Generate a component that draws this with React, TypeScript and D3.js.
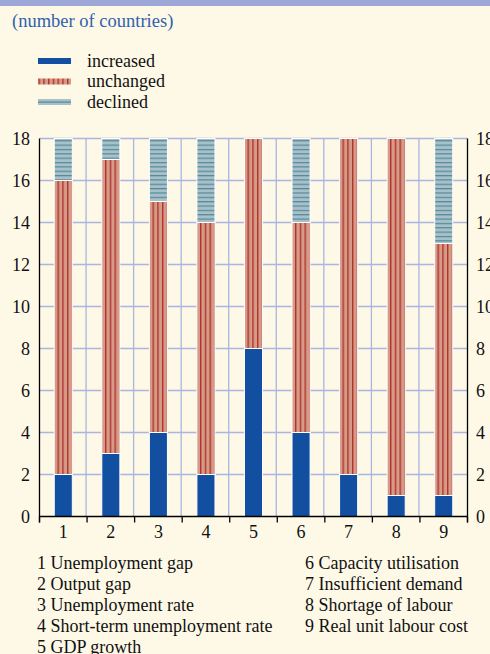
import React from "react";
import * as d3 from "d3";

const categories = ["1", "2", "3", "4", "5", "6", "7", "8", "9"];
const increased = [2, 3, 4, 2, 8, 4, 2, 1, 1];
const unchanged = [14, 14, 11, 12, 10, 10, 16, 17, 12];
const declined = [2, 1, 3, 4, 0, 4, 0, 0, 5];
const yTicks = [0, 2, 4, 6, 8, 10, 12, 14, 16, 18];
const seriesNames = ["increased", "unchanged", "declined"];
const labelsLeft = [
  "1 Unemployment gap",
  "2 Output gap",
  "3 Unemployment rate",
  "4 Short-term unemployment rate",
  "5 GDP growth",
];
const labelsRight = [
  "6 Capacity utilisation",
  "7 Insufficient demand",
  "8 Shortage of labour",
  "9 Real unit labour cost",
];

const W = 490;
const H = 654;
const BG = "#fef9e7";
const BLUE = "#124fa0";
const GRID = "#aab5e2";
const FONT = "'Liberation Serif', 'Times New Roman', serif";

export default function App() {
  const left = 39.5;
  const right = 467.5;
  const top = 138.5;
  const bottom = 516.5;

  const x = d3
    .scaleBand<string>()
    .domain(categories)
    .range([left, right])
    .paddingInner(0.62)
    .paddingOuter(0.31);
  const xb = d3.scaleBand<string>().domain(categories).range([left, right]).padding(0);
  const y = d3.scaleLinear().domain([0, 18]).range([bottom, top]);

  const rows = categories.map((c, i) => ({
    cat: c,
    increased: increased[i],
    unchanged: unchanged[i],
    declined: declined[i],
  }));
  const stack = d3.stack<any>().keys(seriesNames)(rows);
  const fills: Record<string, string> = {
    increased: BLUE,
    unchanged: "url(#unch)",
    declined: "url(#decl)",
  };

  const boundaries = categories.slice(1).map((c) => xb(c)!);
  const allBoundaries = categories.map((c) => xb(c)!).concat([right]);

  return (
    <svg
      width={W}
      height={H}
      style={{ position: "absolute", left: 0, top: 0, background: BG }}
      fontFamily={FONT}
    >
      <defs>
        <pattern id="unch" patternUnits="userSpaceOnUse" width={4.75} height={10} x={0.5}>
          <rect width={4.75} height={10} fill="#d69a88" />
          <rect x={0} width={1.4} height={10} fill="#b0342a" />
        </pattern>
        <pattern id="decl" patternUnits="userSpaceOnUse" width={10} height={4.35} y={1}>
          <rect width={10} height={4.35} fill="#aac0c9" />
          <rect y={0} width={10} height={1.2} fill="#4e8a9b" />
        </pattern>
      </defs>
      <rect x={0} y={0} width={W} height={H} fill={BG} />
      <rect x={0} y={0} width={W} height={6} fill="#9ea8d8" />

      <text x={12} y={26.5} fontSize={18.5} fill="#2f62ad">
        (number of countries)
      </text>

      {/* legend */}
      {seriesNames.map((s, i) => {
        const cy = 61 + i * 20.5;
        return (
          <g key={s}>
            {s === "increased" && <rect x={38} y={cy - 3} width={33} height={6} fill={BLUE} />}
            {s === "unchanged" && <rect x={38} y={cy - 3} width={33} height={6} fill="url(#unch)" />}
            {s === "declined" && (
              <g>
                <rect x={38} y={cy - 3} width={33} height={6} fill="#aac0c9" />
                <rect x={38} y={cy - 0.5} width={33} height={1.2} fill="#4e8a9b" />
              </g>
            )}
            <text x={87} y={cy + 5.5} fontSize={18} fill="#111">
              {s}
            </text>
          </g>
        );
      })}

      {/* grid */}
      {yTicks.slice(1).map((t) => (
        <line key={"h" + t} x1={left} x2={right} y1={y(t)} y2={y(t)} stroke={GRID} strokeWidth={1.3} />
      ))}
      {boundaries.map((b, i) => (
        <line key={"v" + i} x1={b - 1} x2={b - 1} y1={top} y2={bottom} stroke={GRID} strokeWidth={1.3} />
      ))}

      {/* bars */}
      {stack.map((layer) =>
        layer.map((d, i) =>
          d[1] - d[0] > 0 ? (
            <rect
              key={layer.key + i}
              x={x(categories[i])}
              width={x.bandwidth()}
              y={y(d[1])}
              height={y(d[0]) - y(d[1])}
              fill={fills[layer.key]}
              stroke="#ffffff"
              strokeWidth={1}
            />
          ) : null
        )
      )}

      {/* axes */}
      <line x1={left} x2={left} y1={top} y2={bottom + 6} stroke="#000" strokeWidth={1.3} />
      <line x1={right} x2={right} y1={top} y2={bottom + 6} stroke="#000" strokeWidth={1.3} />
      <line x1={left} x2={right} y1={bottom} y2={bottom} stroke="#000" strokeWidth={1.3} />
      {allBoundaries.map((b, i) => (
        <line key={"t" + i} x1={b} x2={b} y1={bottom} y2={bottom + 6} stroke="#000" strokeWidth={1.3} />
      ))}

      {yTicks.map((t) => (
        <g key={"yl" + t}>
          <text x={30} y={y(t) + 6} fontSize={18} textAnchor="end" fill="#111">
            {t}
          </text>
          <text x={476} y={y(t) + 6} fontSize={18} textAnchor="start" fill="#111">
            {t}
          </text>
        </g>
      ))}

      {categories.map((c) => (
        <text key={"xl" + c} x={x(c)! + x.bandwidth() / 2} y={537.5} fontSize={18} textAnchor="middle" fill="#111">
          {c}
        </text>
      ))}

      {labelsLeft.map((l, i) => (
        <text key={"ll" + i} x={37} y={568.5 + i * 21} fontSize={18} fill="#111">
          {l}
        </text>
      ))}
      {labelsRight.map((l, i) => (
        <text key={"lr" + i} x={305} y={568.5 + i * 21} fontSize={18} fill="#111">
          {l}
        </text>
      ))}
    </svg>
  );
}
